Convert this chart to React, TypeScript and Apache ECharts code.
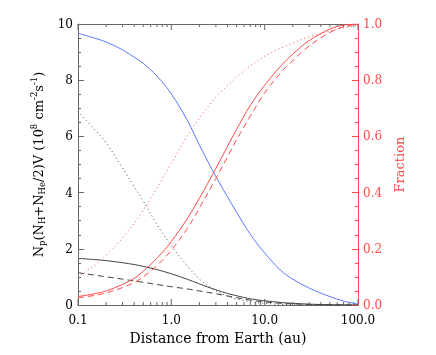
import React, { useEffect, useRef } from "react";
import * as echarts from "echarts";

const distance = [0.1, 0.15, 0.2, 0.3, 0.4, 0.5, 0.7, 1, 1.5, 2, 3, 4, 5, 7, 10, 15, 20, 30, 50, 70, 100];
const fluxTotal = [9.67, 9.5, 9.36, 9.08, 8.82, 8.6, 8.15, 7.51, 6.54, 5.69, 4.57, 3.85, 3.3, 2.52, 1.85, 1.22, 0.92, 0.6, 0.3, 0.14, 0.03];
const fluxSolid = [1.66, 1.617, 1.58, 1.505, 1.44, 1.375, 1.26, 1.11, 0.91, 0.75, 0.54, 0.41, 0.33, 0.22, 0.15, 0.09, 0.06, 0.03, 0.01, 0.005, 0];
const fluxDashed = [1.15, 1.065, 1.005, 0.92, 0.855, 0.81, 0.73, 0.65, 0.57, 0.5, 0.4, 0.32, 0.26, 0.17, 0.11, 0.06, 0.04, 0.02, 0.008, 0.003, 0];
const fluxDotted = [6.88, 6.25, 5.78, 4.87, 4.21, 3.7, 2.87, 2.11, 1.37, 0.92, 0.5, 0.32, 0.22, 0.12, 0.06, 0.025, 0.012, 0.004, 0, 0, 0];
const fracSolid = [0.03, 0.04, 0.05, 0.073, 0.095, 0.12, 0.166, 0.226, 0.31, 0.38, 0.486, 0.565, 0.625, 0.71, 0.782, 0.852, 0.893, 0.941, 0.982, 0.996, 1.0];
const fracDashed = [0.026, 0.034, 0.043, 0.062, 0.08, 0.1, 0.14, 0.195, 0.275, 0.345, 0.45, 0.528, 0.588, 0.672, 0.755, 0.828, 0.87, 0.922, 0.97, 0.99, 1.0];
const fracDotted = [0.1, 0.141, 0.177, 0.238, 0.291, 0.337, 0.415, 0.503, 0.605, 0.665, 0.74, 0.78, 0.81, 0.85, 0.885, 0.915, 0.932, 0.954, 0.974, 0.986, 0.995];

const majorTicks = [0.1, 1, 10, 100];
const minorTicks = [0.2, 0.3, 0.4, 0.5, 0.6, 0.7, 0.8, 0.9, 2, 3, 4, 5, 6, 7, 8, 9, 20, 30, 40, 50, 60, 70, 80, 90];

const FONT = "DejaVu Serif";
const BLUE = "#5a78ff";
const RED = "#ff4a4a";
const BLACK = "#444444";
const AXIS = "#666666";

const pairs = (ys: number[]) => distance.map((d, i) => [d, ys[i]]);

export default function App() {
  const ref = useRef<HTMLDivElement>(null);
  useEffect(() => {
    if (!ref.current) return;
    const chart = echarts.init(ref.current, null, { renderer: "svg" });
    const line = (data: number[], color: string, type: any, yIndex: number, name: string) => ({
      name,
      type: "line",
      data: pairs(data),
      xAxisIndex: 0,
      yAxisIndex: yIndex,
      smooth: 0.35,
      showSymbol: false,
      symbol: "none",
      lineStyle: { color, width: 1, type },
      z: 3,
    });
    const tickData = majorTicks.map((v) => [v, 1]).concat(minorTicks.map((v) => [v, 0]));
    chart.setOption({
      animation: false,
      grid: { left: 78, right: 78, top: 24, bottom: 50 },
      xAxis: [
        {
          type: "log",
          logBase: 10,
          min: 0.1,
          max: 100,
          position: "bottom",
          splitLine: { show: false },
          axisLine: { onZero: false, lineStyle: { color: AXIS, width: 1 } },
          axisTick: { show: false },
          name: "Distance from Earth (au)",
          nameLocation: "middle",
          nameGap: 23,
          nameTextStyle: { fontFamily: FONT, fontSize: 14, color: "#000" },
          axisLabel: {
            fontFamily: FONT,
            fontSize: 12,
            color: "#000",
            margin: 9,
            formatter: (v: number) => v.toFixed(1),
          },
        },
        {
          type: "log",
          logBase: 10,
          min: 0.1,
          max: 100,
          position: "top",
          splitLine: { show: false },
          axisLabel: { show: false },
          axisLine: { show: true, onZero: false, lineStyle: { color: AXIS, width: 1 } },
          axisTick: { show: false },
        },
      ],
      yAxis: [
        {
          type: "value",
          min: 0,
          max: 10,
          interval: 2,
          position: "left",
          splitLine: { show: false },
          axisLine: { show: true, onZero: false, lineStyle: { color: AXIS } },
          axisTick: { show: true, inside: true, length: 6, lineStyle: { color: AXIS } },
          minorTick: { show: true, splitNumber: 4, length: 3, lineStyle: { color: AXIS } },
          axisLabel: { fontFamily: FONT, fontSize: 12, color: "#000", margin: 5 },
          name:
            "{n|N}{s|p}{n|(N}{s|H}{n|+N}{s|He}{n|/2)V (10}{u|8}{n| cm}{u|-2}{n|s}{u|-1}{n|)}",
          nameLocation: "middle",
          nameGap: 29,
          nameRotate: 90,
          nameTextStyle: {
            fontFamily: FONT,
            color: "#000",
            rich: {
              n: { fontFamily: FONT, fontSize: 13, color: "#000", lineHeight: 17, verticalAlign: "middle" },
              s: { fontFamily: FONT, fontSize: 8.5, color: "#000", lineHeight: 17, verticalAlign: "bottom" },
              u: { fontFamily: FONT, fontSize: 8.5, color: "#000", lineHeight: 17, verticalAlign: "top" },
            },
          },
        },
        {
          type: "value",
          min: 0,
          max: 1,
          interval: 0.2,
          position: "right",
          splitLine: { show: false },
          axisLine: { show: true, onZero: false, lineStyle: { color: RED } },
          axisTick: { show: true, inside: true, length: 6, lineStyle: { color: RED } },
          minorTick: { show: true, splitNumber: 4, length: 3, lineStyle: { color: RED } },
          axisLabel: {
            fontFamily: FONT,
            fontSize: 12,
            color: RED,
            margin: 5,
            formatter: (v: number) => v.toFixed(1),
          },
          name: "Fraction",
          nameLocation: "middle",
          nameGap: 25,
          nameRotate: 90,
          nameTextStyle: { fontFamily: FONT, fontSize: 13, color: RED },
        },
      ],
      series: [
        {
          type: "custom",
          name: "xticks",
          xAxisIndex: 0,
          yAxisIndex: 0,
          data: tickData,
          encode: { x: 0, y: 1 },
          silent: true,
          clip: false,
          z: 1,
          renderItem: (params: any, api: any) => {
            const v = api.value(0);
            const len = api.value(1) ? 6 : 3;
            const b = api.coord([v, 0]);
            const t = api.coord([v, 10]);
            const style = { stroke: AXIS, lineWidth: 1 };
            return {
              type: "group",
              children: [
                { type: "line", shape: { x1: b[0], y1: b[1], x2: b[0], y2: b[1] - len }, style },
                { type: "line", shape: { x1: t[0], y1: t[1], x2: t[0], y2: t[1] + len }, style },
              ],
            };
          },
        },
        line(fluxTotal, BLUE, "solid", 0, "total"),
        line(fluxSolid, BLACK, "solid", 0, "solid"),
        line(fluxDashed, BLACK, [6, 4], 0, "dashed"),
        line(fluxDotted, BLACK, [1, 3], 0, "dotted"),
        line(fracSolid, RED, "solid", 1, "fracSolid"),
        line(fracDashed, RED, [6, 4], 1, "fracDashed"),
        line(fracDotted, RED, [1, 3], 1, "fracDotted"),
      ],
    });
    return () => chart.dispose();
  }, []);
  return (
    <div
      ref={ref}
      style={{ position: "fixed", left: 0, top: 0, width: 436, height: 355 }}
    />
  );
}
